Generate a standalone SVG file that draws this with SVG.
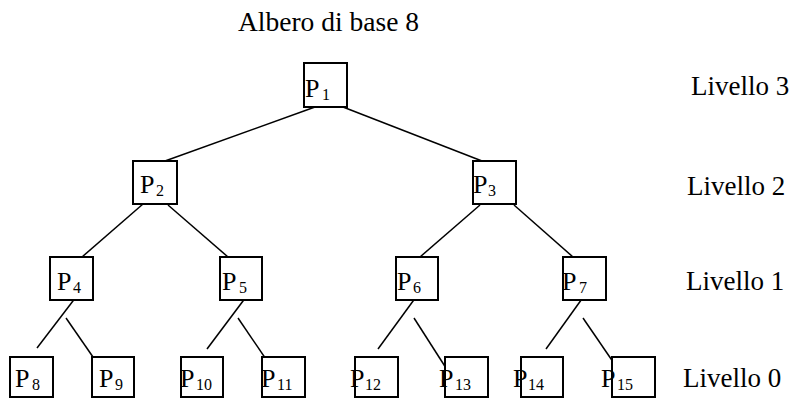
<svg xmlns="http://www.w3.org/2000/svg" width="792" height="399" viewBox="0 0 792 399">
<style>
.box{fill:#fff;stroke:#000;stroke-width:2}
.ln{stroke:#000;stroke-width:1.5;fill:none}
text{font-family:"Liberation Serif","Times New Roman",serif;fill:#000}
.p{font-size:26px}
.s{font-size:16px}
.t{font-size:27px}
.tt{font-size:27.5px}
</style>
<rect width="792" height="399" fill="#fff"/>
<text class="tt" x="238" y="31">Albero di base 8</text>
<g id="levels">
<text class="t" x="691" y="95">Livello 3</text>
<text class="t" x="687" y="195">Livello 2</text>
<text class="t" x="686" y="290">Livello 1</text>
<text class="t" x="683" y="387">Livello 0</text>
</g>
<g id="connectors">
<line class="ln" x1="315" y1="107" x2="165" y2="161"/>
<line class="ln" x1="343" y1="107" x2="482" y2="161"/>
<line class="ln" x1="143" y1="204" x2="82" y2="257"/>
<line class="ln" x1="168" y1="205" x2="228" y2="257"/>
<line class="ln" x1="480" y1="205" x2="420" y2="257"/>
<line class="ln" x1="514" y1="205" x2="573" y2="257"/>
<line class="ln" x1="76" y1="297" x2="37" y2="348"/>
<line class="ln" x1="66" y1="318" x2="102" y2="370"/>
<line class="ln" x1="246" y1="297" x2="207" y2="349"/>
<line class="ln" x1="238" y1="318" x2="272" y2="368"/>
<line class="ln" x1="416" y1="297" x2="378" y2="349"/>
<line class="ln" x1="414" y1="318" x2="446" y2="368"/>
<line class="ln" x1="584" y1="296" x2="546" y2="349"/>
<line class="ln" x1="583" y1="318" x2="620" y2="372"/>
</g>
<g id="P1"><rect class="box" x="304" y="63" width="43" height="44"/><text class="p" x="305" y="97">P</text><text class="s" x="322" y="100">1</text></g>
<g id="P2"><rect class="box" x="133" y="161" width="44" height="43"/><text class="p" x="140" y="193">P</text><text class="s" x="156" y="196">2</text></g>
<g id="P3"><rect class="box" x="473" y="161" width="43" height="43"/><text class="p" x="473" y="193">P</text><text class="s" x="488" y="196">3</text></g>
<g id="P4"><rect class="box" x="50" y="257" width="43" height="43"/><text class="p" x="57" y="290">P</text><text class="s" x="73" y="293">4</text></g>
<g id="P5"><rect class="box" x="220" y="257" width="42" height="43"/><text class="p" x="222" y="290">P</text><text class="s" x="239" y="293">5</text></g>
<g id="P6"><rect class="box" x="396" y="257" width="42" height="43"/><text class="p" x="397" y="290">P</text><text class="s" x="413" y="293">6</text></g>
<g id="P7"><rect class="box" x="563" y="257" width="43" height="43"/><text class="p" x="562" y="290">P</text><text class="s" x="579" y="293">7</text></g>
<g id="P8"><rect class="box" x="10" y="357" width="43" height="40"/><text class="p" x="15" y="387">P</text><text class="s" x="32" y="390">8</text></g>
<g id="P9"><rect class="box" x="92" y="357" width="42" height="40"/><text class="p" x="99" y="387">P</text><text class="s" x="115" y="390">9</text></g>
<g id="P10"><rect class="box" x="181" y="357" width="42" height="40"/><text class="p" x="180" y="387">P</text><text class="s" x="196" y="390">10</text></g>
<g id="P11"><rect class="box" x="262" y="357" width="43" height="40"/><text class="p" x="261" y="387">P</text><text class="s" x="277" y="390">11</text></g>
<g id="P12"><rect class="box" x="355" y="357" width="43" height="40"/><text class="p" x="350" y="387">P</text><text class="s" x="365" y="390">12</text></g>
<g id="P13"><rect class="box" x="445" y="357" width="43" height="40"/><text class="p" x="439" y="387">P</text><text class="s" x="455" y="390">13</text></g>
<g id="P14"><rect class="box" x="521" y="357" width="42" height="40"/><text class="p" x="513" y="387">P</text><text class="s" x="528" y="390">14</text></g>
<g id="P15"><rect class="box" x="612" y="357" width="43" height="40"/><text class="p" x="601" y="387">P</text><text class="s" x="617" y="390">15</text></g>
</svg>
